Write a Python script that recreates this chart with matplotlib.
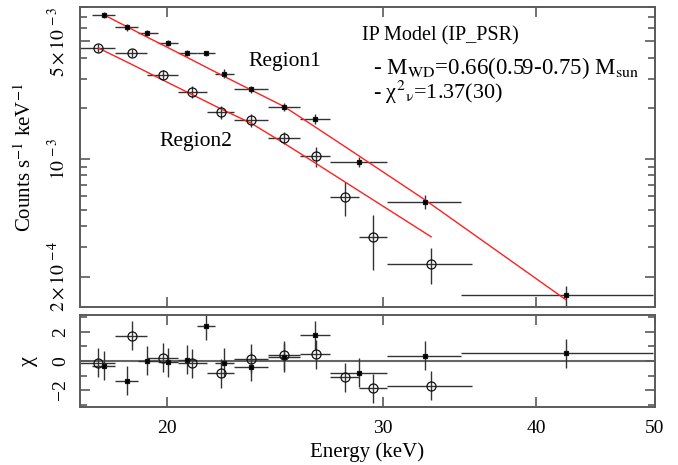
import matplotlib
matplotlib.use("agg")
import numpy as np
import matplotlib.pyplot as plt
from matplotlib.ticker import FixedLocator, FixedFormatter, NullLocator, NullFormatter

plt.rcParams['font.family'] = 'serif'
plt.rcParams['font.serif'] = ['Liberation Serif', 'DejaVu Serif']
plt.rcParams['mathtext.fontset'] = 'stix'

# Region1 (filled squares): bin centres, bin edges (keV), counts, errors, model
r1_e = np.array([17.77, 18.55, 19.29, 20.05, 20.79, 21.54, 22.29, 23.44, 24.93, 26.43, 28.71, 32.46, 42.29])
r1_lo = np.array([17.40, 18.16, 18.94, 19.68, 20.43, 21.18, 21.92, 22.69, 24.17, 25.70, 27.19, 30.23, 34.73])
r1_hi = np.array([18.16, 18.94, 19.68, 20.43, 21.18, 21.92, 22.69, 24.17, 25.70, 27.19, 30.23, 34.73, 49.77])
r1_c = np.array([7.20e-3, 6.05e-3, 5.62e-3, 4.92e-3, 4.28e-3, 4.24e-3, 3.21e-3, 2.59e-3, 2.05e-3, 1.73e-3, 9.64e-4, 5.57e-4, 1.55e-4])
r1_err = np.array([0.30e-3, 0.25e-3, 0.23e-3, 0.20e-3, 0.18e-3, 0.17e-3, 0.20e-3, 0.14e-3, 0.11e-3, 0.12e-3, 0.65e-4, 0.50e-4, 0.22e-4])
r1_model = np.array([7.20e-3, 6.13e-3, 5.29e-3, 4.59e-3, 4.01e-3, 3.51e-3, 3.09e-3, 2.57e-3, 2.05e-3, 1.55e-3, 1.04e-3, 5.73e-4, 1.46e-4])
r1_chi = np.array([-0.32, -1.36, 0.02, -0.07, 0.09, 2.43, -0.11, -0.41, 0.26, 1.79, -0.80, 0.37, 0.53])

# Region2 (open circles)
r2_e = np.array([17.60, 18.73, 19.85, 20.99, 22.13, 23.44, 24.93, 26.45, 27.96, 29.47, 32.85])
r2_lo = np.array([16.95, 18.16, 19.29, 20.43, 21.56, 22.69, 24.17, 25.70, 27.19, 28.72, 30.23])
r2_hi = np.array([18.16, 19.29, 20.43, 21.56, 22.69, 24.17, 25.70, 27.19, 28.72, 30.23, 35.47])
r2_c = np.array([4.56e-3, 4.26e-3, 3.16e-3, 2.51e-3, 1.90e-3, 1.70e-3, 1.33e-3, 1.04e-3, 5.92e-4, 3.42e-4, 2.39e-4])
r2_err = np.array([0.25e-3, 0.23e-3, 0.22e-3, 0.21e-3, 0.17e-3, 0.15e-3, 0.11e-3, 0.14e-3, 1.35e-4, 1.23e-4, 0.58e-4])
r2_model = np.array([4.56e-3, 3.65e-3, 2.95e-3, 2.41e-3, 1.99e-3, 1.63e-3, 1.24e-3, 9.44e-4, 7.29e-4, 5.71e-4, 3.45e-4])
r2_chi = np.array([-0.11, 1.75, 0.23, -0.16, -0.85, 0.16, 0.41, 0.46, -1.13, -1.89, -1.72])

x_ticks = [20, 30, 40, 50]
y_ticks = [2e-4, 1e-3, 5e-3]
y_ticklabels = [r'$2\times10^{\,-4}$', r'$10^{\,-3}$', r'$5\times10^{\,-3}$']
chi_ticks = [-2, 0, 2]
chi_minor = [-3, -1, 1, 3]

spine_col = '#5a5a5a'
err_col = '#333333'

fig = plt.figure(figsize=(6.78, 4.65), dpi=100)
ax = fig.add_axes([80 / 678, 1 - 307 / 465, 575 / 678, 300 / 465])
axr = fig.add_axes([80 / 678, 1 - 407 / 465, 575 / 678, 92 / 465], sharex=ax)


def style(a):
    for s in a.spines.values():
        s.set_color(spine_col)
        s.set_linewidth(1.4)
    a.tick_params(which='both', direction='in', top=True, right=True,
                  color=spine_col, width=1.2, labelsize=14)
    a.tick_params(which='major', length=7)
    a.tick_params(which='minor', length=5)


# top panel: spectra
for e, lo, hi, c, err, fmt, ms, mfc in [
        (r1_e, r1_lo, r1_hi, r1_c, r1_err, 's', 3.5, 'k'),
        (r2_e, r2_lo, r2_hi, r2_c, r2_err, 'o', 6.5, 'none')]:
    ax.errorbar(e, c, xerr=[e - lo, hi - e], yerr=err, fmt=fmt, ms=ms,
                mfc=mfc, mec='#111111', mew=0.9, ecolor=err_col, elinewidth=1.0, capsize=0)
ax.plot(r1_e, r1_model, color='#ff2020', lw=1.0)
ax.plot(r2_e, r2_model, color='#ff2020', lw=1.0)

ax.set_xscale('log')
ax.set_yscale('log')
ax.set_xlim(17.0, 50.0)
ax.set_ylim(1.32e-4, 8.0e-3)
style(ax)
ax.xaxis.set_major_locator(FixedLocator(x_ticks))
ax.xaxis.set_minor_locator(NullLocator())
ax.yaxis.set_major_locator(FixedLocator(y_ticks))
ax.yaxis.set_major_formatter(FixedFormatter(y_ticklabels))
minor_y = [m * 10.0 ** d for d in (-4, -3) for m in range(1, 10)]
minor_y = [v for v in minor_y if v not in (2e-4, 1e-3, 5e-3)]
ax.yaxis.set_minor_locator(FixedLocator(minor_y))
ax.yaxis.set_minor_formatter(NullFormatter())
plt.setp(ax.get_xticklabels(), visible=False)
for lab in ax.get_yticklabels():
    lab.set_rotation(90)
    lab.set_va('center')
ax.tick_params(axis='y', pad=8)
ax.set_ylabel(r'Counts s$^{-1}$ keV$^{-1}$', fontsize=15, labelpad=8)

ax.text(0.357, 0.82, 'Region1', transform=ax.transAxes, fontsize=15.5, ha='center', va='center')
ax.text(0.202, 0.553, 'Region2', transform=ax.transAxes, fontsize=15.5, ha='center', va='center')
ax.text(0.49, 0.903, 'IP Model (IP_PSR)', transform=ax.transAxes, fontsize=14.5, va='center')
ax.text(0.51, 0.797, r'- M$_\mathrm{WD}$=0.66(0.59-0.75) M$_\mathrm{sun}$', transform=ax.transAxes,
        fontsize=16.5, va='center')
ax.text(0.51, 0.717, r'- χ$^{2}{}_{\mathrm{\nu}}$=1.37(30)', transform=ax.transAxes, fontsize=16, va='center')

# bottom panel: residuals
axr.axhline(0, color='#666666', lw=1.5, zorder=1)
for e, lo, hi, chi, fmt, ms, mfc in [
        (r1_e, r1_lo, r1_hi, r1_chi, 's', 3.5, 'k'),
        (r2_e, r2_lo, r2_hi, r2_chi, 'o', 6.5, 'none')]:
    axr.errorbar(e, chi, xerr=[e - lo, hi - e], yerr=1.0, fmt=fmt, ms=ms,
                 mfc=mfc, mec='#111111', mew=0.9, ecolor=err_col, elinewidth=1.0, capsize=0)
axr.set_ylim(-3.17, 3.17)
style(axr)
axr.xaxis.set_major_locator(FixedLocator(x_ticks))
axr.xaxis.set_major_formatter(FixedFormatter([str(t) for t in x_ticks]))
axr.xaxis.set_minor_locator(NullLocator())
axr.yaxis.set_major_locator(FixedLocator(chi_ticks))
axr.yaxis.set_minor_locator(FixedLocator(chi_minor))
for lab in axr.get_yticklabels():
    lab.set_rotation(90)
    lab.set_va('center')
axr.tick_params(axis='y', pad=8)
axr.tick_params(axis='x', pad=9)
axr.set_xlabel('Energy (keV)', fontsize=15, labelpad=4)
axr.set_ylabel('χ', fontsize=16, labelpad=10)

fig.savefig('out.png', dpi=100)
